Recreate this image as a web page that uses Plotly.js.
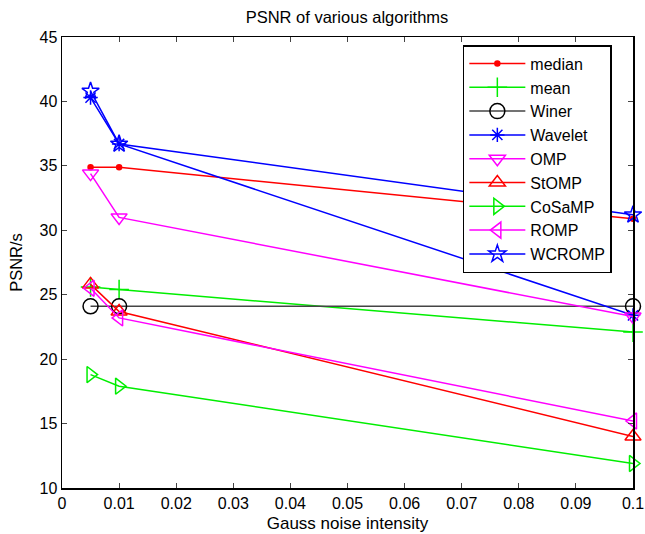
<!DOCTYPE html>
<html><head><meta charset="utf-8">
<script src="https://cdn.plot.ly/plotly-3.0.1.min.js"></script>
<style>body{margin:0;background:#fff}#c{width:645px;height:534px}</style>
</head><body><div id="c"></div>
<script>
const xNoise = [0.005, 0.01, 0.1];
const seriesNames = ['median','mean','Winer','Wavelet','OMP','StOMP','CoSaMP','ROMP','WCROMP'];
const median = [34.9, 34.9, 30.9];
const mean   = [25.6, 25.4, 22.1];
const winer  = [24.1, 24.1, 24.1];
const wavelet= [40.3, 36.7, 23.4];
const omp    = [34.4, 31.0, 23.3];
const stomp  = [25.8, 23.7, 14.0];
const cosamp = [18.8, 17.9, 11.9];
const romp   = [25.5, 23.2, 15.2];
const wcromp = [40.8, 36.7, 31.2];
const yTicks = [10,15,20,25,30,35,40,45];
const xTicks = [0,0.01,0.02,0.03,0.04,0.05,0.06,0.07,0.08,0.09,0.1];
const xTickText = ['0','0.01','0.02','0.03','0.04','0.05','0.06','0.07','0.08','0.09','0.1'];

const values = [median, mean, winer, wavelet, omp, stomp, cosamp, romp, wcromp];
const colors = ['#ff0000','#00ee00','#000000','#0000ff','#ff00ff','#ff0000','#00ee00','#ff00ff','#0000ff'];
const lineColors = ['#ff0000','#00ee00','#444444','#0000ff','#ff00ff','#ff0000','#00ee00','#ff00ff','#0000ff'];
const symbols = ['circle','cross-thin-open','circle-open','asterisk-open','triangle-down-open','triangle-up-open','triangle-right-open','triangle-left-open','star-open'];
const sizes = [5,14,15,12,14,14,14,14,13];

const traces = seriesNames.map((n,i)=>({
  x: xNoise, y: values[i], name: n, type:'scatter', mode:'lines+markers', cliponaxis:false,
  line:{color:lineColors[i], width:1.5},
  marker:{symbol:symbols[i], size:sizes[i], color:colors[i], line:{color:colors[i], width:1.5}}
}));

const font = {family:'Liberation Sans, Arial, sans-serif', color:'#000'};
const layout = {
  width:645, height:534,
  margin:{l:62, r:12, t:37, b:46},
  paper_bgcolor:'#fff', plot_bgcolor:'#fff',
  font:Object.assign({size:16}, font),
  title:{text:'PSNR of various algorithms', font:Object.assign({size:16.5}, font), x:0.538, xanchor:'center', y:0.968, yanchor:'middle'},
  showlegend:true,
  legend:{x:0.702, y:0.982, xanchor:'left', yanchor:'top', bgcolor:'#fff', bordercolor:'#000', borderwidth:1.5,
          font:Object.assign({size:16}, font), itemwidth:56, tracegroupgap:0},
  xaxis:{range:[0,0.1], tickvals:xTicks, ticktext:xTickText, ticks:'inside', ticklen:5, tickwidth:1,
         ticklabeloverflow:'allow', automargin:false,
         showline:true, linecolor:'#000', linewidth:1.5, mirror:'ticks', showgrid:false, zeroline:false,
         title:{text:'Gauss noise intensity', font:Object.assign({size:17}, font), standoff:6}, tickfont:Object.assign({size:16}, font)},
  yaxis:{range:[10,45], tickvals:yTicks, ticks:'inside', ticklen:5, tickwidth:1, automargin:false,
         showline:true, linecolor:'#000', linewidth:1.5, mirror:'ticks', showgrid:false, zeroline:false,
         title:{text:'PSNR/s', font:Object.assign({size:16.5}, font), standoff:12}, tickfont:Object.assign({size:16}, font)}
};
Plotly.newPlot('c', traces, layout, {displayModeBar:false, staticPlot:true});
</script></body></html>
